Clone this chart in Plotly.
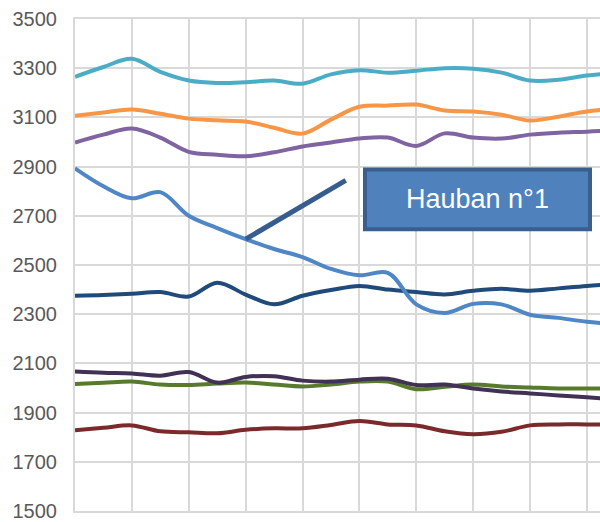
import plotly.graph_objects as go

# sample positions (gridlines at integers)
positions = [i * 0.5 for i in range(20)]

cyan = [3265, 3305, 3338, 3285, 3250, 3240, 3243, 3250, 3237, 3275, 3292, 3282, 3290, 3300, 3298, 3282, 3250, 3253, 3270, 3280]
orange = [3107, 3120, 3132, 3115, 3095, 3088, 3083, 3058, 3034, 3091, 3143, 3148, 3152, 3128, 3124, 3111, 3087, 3103, 3124, 3135]
purple = [2998, 3030, 3055, 3018, 2960, 2948, 2942, 2958, 2982, 2998, 3014, 3018, 2984, 3035, 3018, 3014, 3030, 3038, 3042, 3048]
hauban1 = [2893, 2820, 2771, 2796, 2700, 2650, 2605, 2565, 2532, 2484, 2458, 2468, 2340, 2305, 2342, 2340, 2298, 2285, 2269, 2260]
navy = [2375, 2378, 2383, 2390, 2372, 2428, 2380, 2340, 2375, 2398, 2415, 2400, 2390, 2380, 2395, 2403, 2395, 2405, 2415, 2422]
dark_purple = [2067, 2062, 2059, 2050, 2065, 2022, 2045, 2048, 2030, 2026, 2034, 2038, 2012, 2014, 1998, 1986, 1978, 1970, 1962, 1955]
green = [2016, 2021, 2026, 2014, 2012, 2018, 2022, 2014, 2006, 2014, 2026, 2026, 1995, 2005, 2014, 2006, 2002, 1998, 1998, 1998]
dark_red = [1828, 1838, 1848, 1824, 1820, 1816, 1830, 1836, 1836, 1850, 1866, 1852, 1848, 1824, 1812, 1822, 1848, 1852, 1852, 1852]

y_ticks = [1500, 1700, 1900, 2100, 2300, 2500, 2700, 2900, 3100, 3300, 3500]

series = [
    ("Cyan", cyan, "#4bacc6"),
    ("Orange", orange, "#f79646"),
    ("Violet", purple, "#8064a2"),
    ("Marine", navy, "#1f4a7a"),
    ("Vert", green, "#577a2c"),
    ("Prune", dark_purple, "#413154"),
    ("Bordeaux", dark_red, "#7a2a2a"),
    ("Hauban n°1", hauban1, "#4f86c6"),
]

fig = go.Figure()
for name, vals, col in series:
    fig.add_trace(go.Scatter(x=positions, y=vals, mode="lines", name=name,
                             line=dict(color=col, width=4, shape="spline", smoothing=1.0)))

# pointer line from Hauban n°1 curve to the label box
fig.add_shape(type="line", xref="x", yref="y", x0=positions[6], y0=hauban1[6], x1=4.76, y1=2844,
              line=dict(color="#365d8d", width=5))

# label box
L, T, W, H = 75, 19, 525, 494
def px(xp): return (xp - L) / W
def py(yp): return (T + H - yp) / H
fig.add_shape(type="rect", xref="paper", yref="paper",
              x0=px(365), x1=px(590), y0=py(230), y1=py(170),
              fillcolor="#4f81bd", line=dict(color="#3a5f8d", width=4))
fig.add_annotation(xref="paper", yref="paper", x=px(477), y=py(200), text="Hauban n°1",
                   xanchor="center", yanchor="middle", showarrow=False,
                   font=dict(family="Liberation Sans, Arial, sans-serif", size=27, color="white"))

fig.update_layout(
    width=600, height=522,
    margin=dict(l=L, r=0, t=T, b=522 - T - H),
    paper_bgcolor="white", plot_bgcolor="white",
    showlegend=False,
    font=dict(family="Liberation Sans, Arial, sans-serif", color="#595959"),
)
fig.update_xaxes(range=[0, 9.23], dtick=1, tick0=0, showticklabels=False, showgrid=True,
                 gridcolor="#d9d9d9", gridwidth=2, zeroline=False,
                 showline=True, mirror=True, linecolor="#d9d9d9", linewidth=2)
fig.update_yaxes(range=[1500, 3500], tickvals=y_ticks, ticktext=[str(v) for v in y_ticks],
                 showgrid=True, gridcolor="#d9d9d9", gridwidth=2, zeroline=False,
                 showline=True, linecolor="#d9d9d9", linewidth=2,
                 tickfont=dict(size=20, color="#595959"), ticks="", ticklabelstandoff=12,
                 ticklabeloverflow="allow")

fig.write_html("out.html", config={"displayModeBar": False},
               post_script="document.body.style.margin='0';")
